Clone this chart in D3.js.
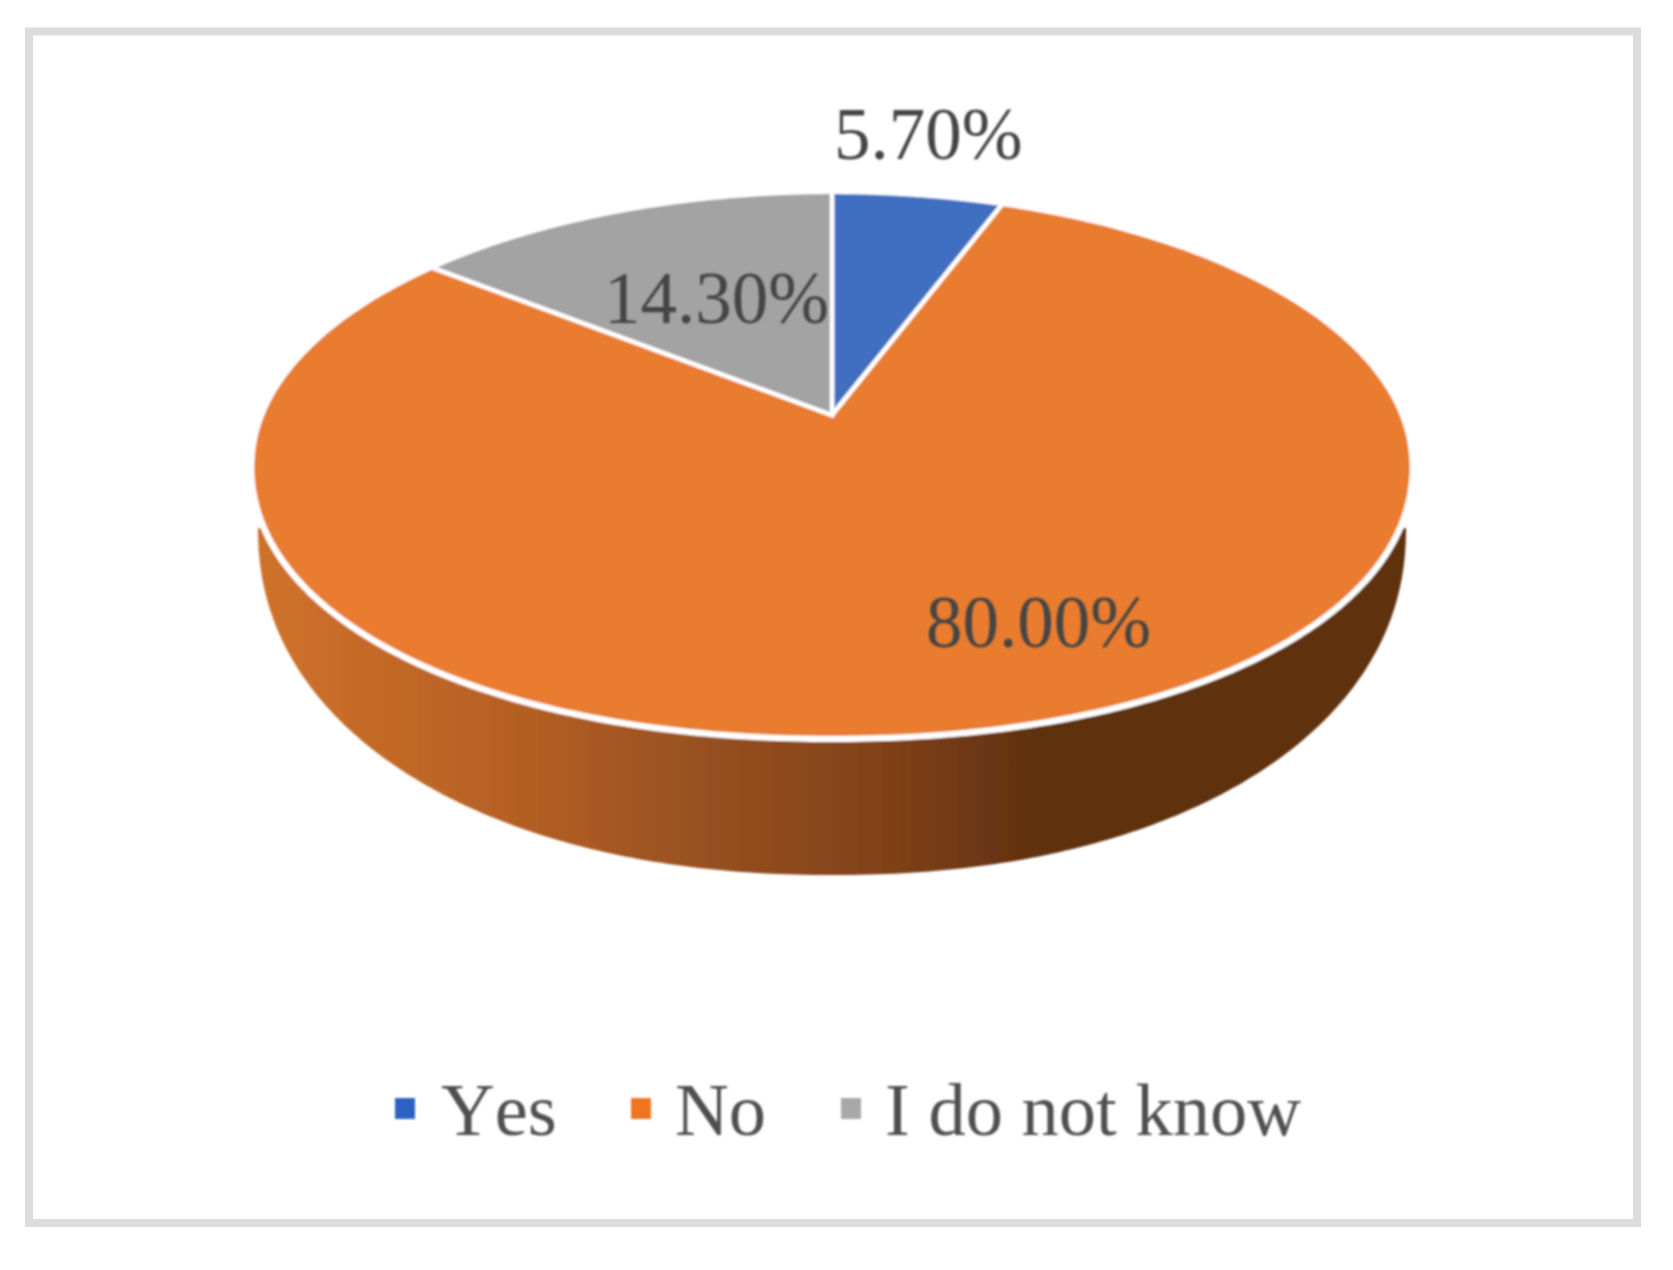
<!DOCTYPE html>
<html><head><meta charset="utf-8">
<script src="https://cdn.jsdelivr.net/npm/d3@7"></script>
<style>html,body{margin:0;padding:0;background:#fff}svg{display:block}text{font-kerning:none}</style></head>
<body><svg id="c" width="1673" height="1270"></svg>
<script>
const categories = ["Yes", "No", "I do not know"];
const values = [5.7, 80.0, 14.3];
const valueLabels = ["5.70%", "80.00%", "14.30%"];
const colors = ["#406ec0", "#e97b2f", "#a3a3a3"];
const legendColors = ["#2f62c2", "#ed7422", "#a8a8a8"];

const svg = d3.select("#c");
const defs = svg.append("defs");
defs.append("filter").attr("id","soft").append("feGaussianBlur").attr("stdDeviation",0.8);
const grad = defs.append("linearGradient").attr("id","wall").attr("gradientUnits","userSpaceOnUse")
  .attr("x1",255).attr("x2",1412).attr("y1",0).attr("y2",0);
[[0,"#cf722b"],[0.2,"#b96225"],[0.4,"#964f20"],[0.55,"#7f4119"],[0.68,"#5f300f"],[1,"#5f300f"]]
  .forEach(([o,c])=>grad.append("stop").attr("offset",o).attr("stop-color",c));

svg.append("rect").attr("x",29).attr("y",31.5).attr("width",1608).attr("height",1191.5)
  .attr("fill","#fff").attr("stroke","#dcdcdc").attr("stroke-width",8);

// perspective projection of the unit disc; angle 0 at top, clockwise
const cx=832, y0=415, a=570, b=264, k=0.183;
const yMid=465, rX=580, rY=273, nRim=2.1;
function proj(t){
  const u=Math.sin(t), v=-Math.cos(t), w=1-k*v;
  let x=cx+a*u/w, y=y0+b*v/w;
  // the lower half of the rim is a little fuller than a true ellipse
  if(y>yMid){
    const dx=Math.abs(x-cx)/rX, dy=(y-yMid)/rY;
    const f=1/Math.pow(Math.pow(dx,nRim)+Math.pow(dy,nRim),1/nRim);
    x=cx+(x-cx)*f; y=yMid+(y-yMid)*f;
  }
  return [x,y];
}
const sweep=(t0,t1,n=240)=>d3.range(n+1).map(i=>proj(t0+(t1-t0)*i/n));
const line=d3.line();

// side wall: lower edge of the disc's thickness; the top face covers its upper part
const wallY=528, wallRx=574, wallRy=347, nWall=2.15;
const wallPts=d3.range(241).map(i=>{
  const p=Math.PI*i/240, c=Math.cos(p), s=Math.sin(p);
  return [cx+wallRx*Math.sign(c)*Math.pow(Math.abs(c),2/nWall), wallY+wallRy*Math.pow(s,2/nWall)];
});
const arcs=d3.pie().sort(null).value(d=>d)(values);
const g=svg.append("g").attr("filter","url(#soft)");
g.append("path").attr("d",line(wallPts)+"Z").attr("fill","url(#wall)");

// white rim under the top face
g.append("path").attr("d",line(sweep(0,2*Math.PI,480))+"Z").attr("fill","#fff").attr("stroke","#fff").attr("stroke-width",8);

// top face
g.selectAll("path.s").data(arcs).join("path").attr("class","s")
  .attr("d",d=>line([[cx,y0]].concat(sweep(d.startAngle,d.endAngle)))+"Z")
  .attr("fill",(d,i)=>colors[i]).attr("stroke","#fff").attr("stroke-width",4.5).attr("stroke-linejoin","miter");

// data labels
const labelPos=[[834,159],[926,647],[604,323]];
const lab=svg.append("g").attr("filter","url(#soft)").attr("font-family","'Liberation Serif'").attr("font-size",73).attr("fill","#454545");
lab.selectAll("text").data(valueLabels).join("text")
  .attr("x",(d,i)=>labelPos[i][0]).attr("y",(d,i)=>labelPos[i][1]).text(d=>d);

// legend
const legendX=[395,631,841], legendTextX=[441,675,885];
const leg=svg.append("g").attr("filter","url(#soft)");
leg.selectAll("rect").data(categories).join("rect")
  .attr("x",(d,i)=>legendX[i]).attr("y",1098).attr("width",20).attr("height",21).attr("fill",(d,i)=>legendColors[i]);
leg.selectAll("text").data(categories).join("text")
  .attr("x",(d,i)=>legendTextX[i]).attr("y",1135).text(d=>d)
  .attr("font-family","'Liberation Serif'").attr("font-size",74.5).attr("fill","#505050");
</script></body></html>
